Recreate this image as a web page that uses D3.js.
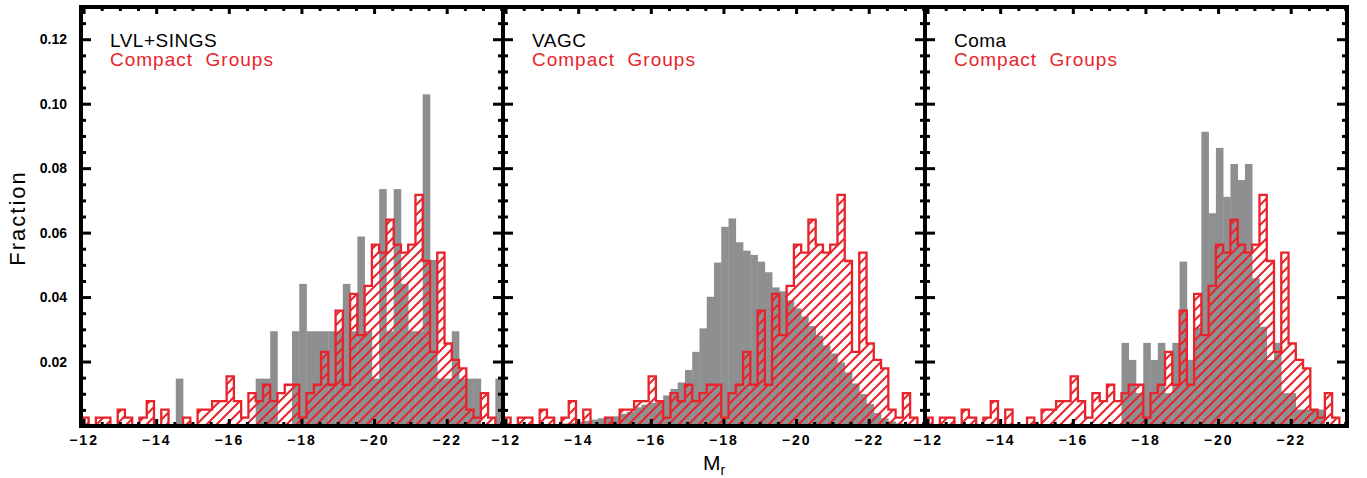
<!DOCTYPE html>
<html><head><meta charset="utf-8">
<script src="https://cdn.jsdelivr.net/npm/d3@7"></script>
<style>
html,body{margin:0;padding:0;background:#fff;}
svg{display:block;}
</style></head><body>
<svg id="chart" width="1367" height="478"></svg>
<script>
// ---- DATA (fraction per 0.2 mag bin, bins run from M_r = -11.94 towards brighter magnitudes) ----
const compactGroups = [
  0.0026, 0, 0.0026, 0.0026, 0, 0.0051, 0.0026, 0, 0.0026, 0.0077,
  0, 0.0051, 0, 0, 0.0026, 0, 0.0051, 0.0051, 0.0077, 0.0077,
  0.0154, 0.0077, 0.0026, 0.0102, 0.0077, 0.0128, 0.0077, 0.0102, 0.0128, 0.0128,
  0.0026, 0.0102, 0.0128, 0.0230, 0.0128, 0.0358, 0.0128, 0.0410, 0.0282, 0.0435,
  0.0563, 0.0538, 0.0640, 0.0563, 0.0538, 0.0563, 0.0717, 0.0512, 0.0230, 0.0538,
  0.0256, 0.0205, 0.0179, 0.0051, 0.0026, 0.0102, 0.0026, 0
];
const lvlSings = [
  0, 0, 0, 0, 0, 0, 0, 0, 0, 0,
  0, 0, 0, 0.0147, 0, 0, 0, 0, 0, 0,
  0, 0, 0, 0, 0.0147, 0.0147, 0.0294, 0, 0, 0.0294,
  0.0441, 0.0294, 0.0294, 0.0294, 0.0294, 0.0294, 0.0441, 0.0294, 0.0588, 0.0294,
  0.0147, 0.0735, 0.0294, 0.0735, 0.0441, 0.0294, 0.0294, 0.1029, 0.0515, 0.0147,
  0.0147, 0.0294, 0.0147, 0.0147, 0.0147, 0, 0, 0.0147
];
const vagc = [
  0, 0, 0, 0, 0, 0, 0, 0.0005, 0.0008, 0.0010,
  0.0013, 0.0016, 0.0020, 0.0024, 0.0028, 0.0030, 0.0038, 0.0044, 0.0058, 0.0066,
  0.0072, 0.0078, 0.0095, 0.0115, 0.0135, 0.0174, 0.0230, 0.0303, 0.0401, 0.0507,
  0.0618, 0.0644, 0.0570, 0.0544, 0.0531, 0.0510, 0.0477, 0.0430, 0.0418, 0.0390,
  0.0365, 0.0340, 0.0310, 0.0280, 0.0250, 0.0225, 0.0197, 0.0166, 0.0132, 0.0099,
  0.0068, 0.0040, 0.0024, 0.0014, 0.0008, 0.0004, 0.0002, 0
];
const coma = [
  0, 0, 0, 0, 0, 0, 0, 0, 0, 0,
  0, 0, 0, 0, 0, 0, 0, 0, 0, 0,
  0, 0, 0, 0, 0, 0, 0, 0.0258, 0.0205, 0.0102,
  0.0258, 0.0205, 0.0258, 0.0102, 0.0258, 0.0510, 0.0205, 0.0305, 0.0913, 0.0660,
  0.0863, 0.0711, 0.0813, 0.0763, 0.0813, 0.0458, 0.0308, 0.0205, 0.0258, 0.0102,
  0.0102, 0.0051, 0.0051, 0.0051, 0.0051, 0, 0, 0
];
const panelNames = ["LVL+SINGS", "VAGC", "Coma"];
const comparisonLabel = "Compact  Groups";
const xTickValues = [-12, -14, -16, -18, -20, -22];
const yTickValues = [0, 0.02, 0.04, 0.06, 0.08, 0.10, 0.12];
const binStart = -11.94, binWidth = 0.2;

// ---- LAYOUT ----
const grays = [lvlSings, vagc, coma];
const red = "#e8232b", grayFill = "#8e8f91";
const panelLeft = [81, 503, 925], panelW = 422, plotTop = 7, plotBottom = 426;
const fontFam = "'Liberation Sans', Arial, sans-serif";

const svg = d3.select("#chart");
svg.append("rect").attr("width", 1367).attr("height", 478).attr("fill", "#fff");

const x = d3.scaleLinear().domain([-11.93, -23.55]).range([0, panelW]);
const y = d3.scaleLinear().domain([0, 0.13]).range([plotBottom, plotTop]);

const defs = svg.append("defs");
const pat = defs.append("pattern").attr("id", "hatch")
  .attr("patternUnits", "userSpaceOnUse").attr("width", 10).attr("height", 10);
pat.append("path").attr("d", "M-2,2 L2,-2 M0,10 L10,0 M8,12 L12,8")
  .attr("stroke", red).attr("stroke-width", 2).attr("fill", "none");
defs.append("clipPath").attr("id", "pclip").append("rect")
  .attr("x", 0).attr("y", plotTop).attr("width", panelW).attr("height", plotBottom - plotTop);

const edge = k => binStart - binWidth * k;

function stepPoints(vals) {
  const pts = [[edge(0), 0]];
  vals.forEach((v, k) => { pts.push([edge(k), v]); pts.push([edge(k + 1), v]); });
  pts.push([edge(vals.length), 0]);
  return pts;
}

const xMinor = d3.range(-12, -23.6, -0.5).filter(d => !xTickValues.includes(d));
const yMinor = d3.range(0, 0.1301, 0.005).filter(d => !yTickValues.some(t => Math.abs(t - d) < 1e-6));
const fmtX = d => "\u2212" + Math.abs(d);

const styleAxis = (sel, w) => {
  sel.select(".domain").remove();
  sel.selectAll("line").attr("stroke", "#000").attr("stroke-width", w);
};

grays.forEach((gvals, i) => {
  const g = svg.append("g").attr("transform", `translate(${panelLeft[i]},0)`);
  const data = g.append("g").attr("clip-path", "url(#pclip)");

  // gray histogram
  data.selectAll("rect.bar").data(gvals).join("rect").attr("class", "bar")
    .attr("x", (v, k) => x(edge(k)))
    .attr("width", (v, k) => x(edge(k + 1)) - x(edge(k)) + 0.3)
    .attr("y", v => y(v))
    .attr("height", v => y(0) - y(v))
    .attr("fill", grayFill);

  // compact groups hatched histogram
  const pts = stepPoints(compactGroups);
  data.append("path").datum(pts)
    .attr("d", d3.area().x(d => x(d[0])).y0(y(0)).y1(d => y(d[1])))
    .attr("fill", "url(#hatch)");
  data.append("path").datum(pts)
    .attr("d", d3.line().x(d => x(d[0])).y(d => y(d[1])))
    .attr("fill", "none").attr("stroke", red).attr("stroke-width", 2.3)
    .attr("stroke-linejoin", "miter");

  // axes
  g.append("g").attr("transform", `translate(0,${plotBottom})`)
    .call(d3.axisBottom(x).tickValues(xTickValues).tickSize(-7).tickPadding(9).tickFormat(fmtX))
    .call(s => styleAxis(s, 3))
    .call(s => s.selectAll("text").attr("font-family", fontFam)
      .attr("font-size", 14).attr("font-weight", "bold").attr("fill", "#000")
      .attr("letter-spacing", "2px"));
  g.append("g").attr("transform", `translate(0,${plotBottom})`)
    .call(d3.axisBottom(x).tickValues(xMinor).tickSize(-4).tickFormat(""))
    .call(s => styleAxis(s, 3));
  g.append("g").attr("transform", `translate(0,${plotTop})`)
    .call(d3.axisTop(x).tickValues(xTickValues).tickSize(-7).tickFormat(""))
    .call(s => styleAxis(s, 3));
  g.append("g").attr("transform", `translate(0,${plotTop})`)
    .call(d3.axisTop(x).tickValues(xMinor).tickSize(-4).tickFormat(""))
    .call(s => styleAxis(s, 3));

  const left = g.append("g")
    .call(d3.axisLeft(y).tickValues(yTickValues).tickSize(-10).tickPadding(14)
      .tickFormat(d => (i === 0 && d > 0) ? d3.format(".2f")(d) : ""))
    .call(s => styleAxis(s, 3));
  left.selectAll("text").attr("font-family", fontFam)
    .attr("font-size", 14).attr("font-weight", "bold").attr("fill", "#000");
  g.append("g").call(d3.axisLeft(y).tickValues(yMinor).tickSize(-5).tickFormat(""))
    .call(s => styleAxis(s, 3));
  g.append("g").attr("transform", `translate(${panelW},0)`)
    .call(d3.axisRight(y).tickValues(yTickValues).tickSize(-10).tickFormat(""))
    .call(s => styleAxis(s, 3));
  g.append("g").attr("transform", `translate(${panelW},0)`)
    .call(d3.axisRight(y).tickValues(yMinor).tickSize(-5).tickFormat(""))
    .call(s => styleAxis(s, 3));

  // frame
  g.append("rect").attr("x", 0).attr("y", plotTop).attr("width", panelW).attr("height", plotBottom - plotTop)
    .attr("fill", "none").attr("stroke", "#000").attr("stroke-width", 4);

  // legend
  g.append("text").attr("x", 29).attr("y", 47).text(panelNames[i])
    .attr("font-family", fontFam).attr("font-size", 19)
    .attr("letter-spacing", "0.5px").attr("fill", "#000");
  g.append("text").attr("x", 29).attr("y", 66).text(comparisonLabel)
    .attr("font-family", fontFam).attr("font-size", 19)
    .attr("letter-spacing", "1px").attr("fill", red).style("white-space", "pre");
});

// axis titles
svg.append("text").attr("transform", "translate(25,218) rotate(-90)")
  .attr("text-anchor", "middle").attr("font-family", fontFam)
  .attr("font-size", 22).attr("letter-spacing", "2px").attr("fill", "#000").text("Fraction");
const xt = svg.append("text").attr("x", 703).attr("y", 470)
  .attr("font-family", fontFam).attr("font-size", 21).attr("fill", "#000");
xt.append("tspan").text("M");
xt.append("tspan").attr("font-size", 14).attr("dy", 5).text("r");
</script>
</body></html>
